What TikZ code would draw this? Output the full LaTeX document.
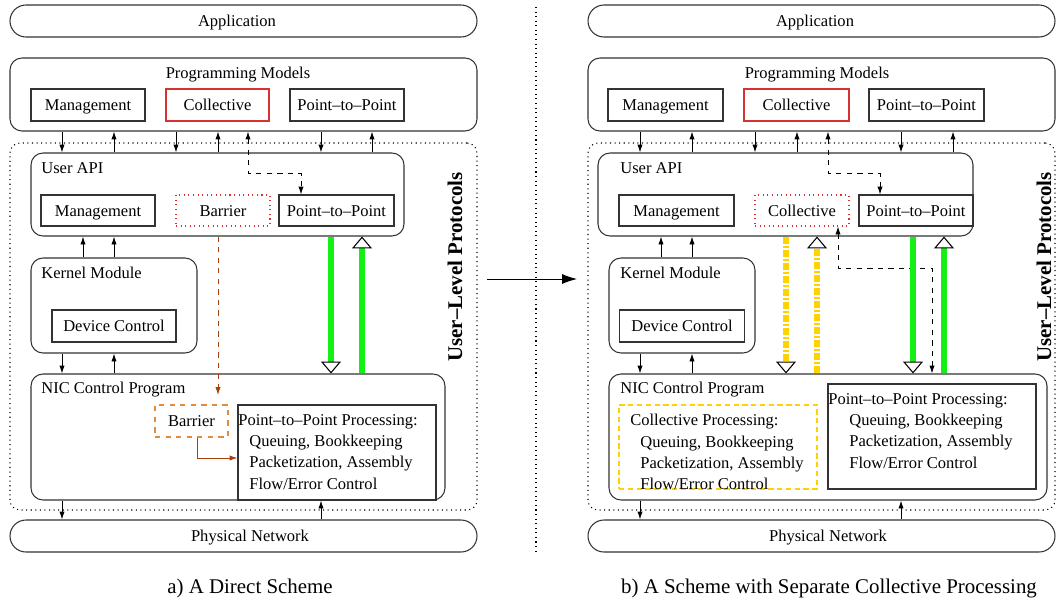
\documentclass[tikz,border=0pt]{standalone}
\usepackage{fontspec}
\setmainfont{Liberation Serif}
\usetikzlibrary{arrows.meta}
\usepackage{xcolor}
\definecolor{colred}{RGB}{215,50,50}
\definecolor{colorange}{RGB}{225,140,60}
\definecolor{colbrown}{RGB}{165,65,10}
\definecolor{colgold}{RGB}{255,210,0}
\definecolor{colgreen}{RGB}{20,240,20}
\newcommand{\nfont}{\fontsize{9.4}{12.1}\selectfont}
\newcommand{\bigfont}{\fontsize{11.9}{14}\selectfont}
\tikzset{
  blk/.style={draw=black!80, line width=0.6pt, inner sep=0pt, text height=6.8pt, text depth=0pt},
  wh/.style 2 args={minimum width=#1*0.02cm, minimum height=#2*0.02cm},
  layer/.style={blk, rounded corners=0.24cm},
  pill/.style={blk, rounded corners=0.32cm},
  ulp/.style={draw=black, line width=0.6pt, dotted, rounded corners=0.2cm, inner sep=0pt},
  lbl/.style={inner sep=0pt, text height=6.8pt, text depth=0pt},
  ttl/.style={anchor=west, inner sep=0pt},
  para/.style={anchor=north west, align=left, inner sep=0pt},
  captext/.style={font=\bigfont},
  side/.style={font=\bigfont\bfseries, rotate=90},
  link/.style={line width=0.5pt, -{Latex[length=4.5pt,width=3pt]}},
  dlink/.style={line width=0.5pt, dashed, {Latex[length=4.5pt,width=3pt]}-{Latex[length=4.5pt,width=3pt]}},
  fat/.style={line width=3.4pt, -{Triangle[length=6.8pt,width=11.4pt,line width=0.6pt,color=black,fill=white]}},
}
\begin{document}
\begin{tikzpicture}[x=0.02cm,y=-0.02cm,font=\nfont]
\useasboundingbox (0,0) rectangle (1057,602);

% a) direct scheme
\node[pill, wh={467}{32}] (appL) at (243.5,21) {};
\node[lbl] (appLt) at (237,21) {Application};
\node[layer, wh={467}{73}] (pmL) at (243.5,94.5) {};
\node (pmLt) at (238,75) {Programming Models};
\node[blk, wh={114}{32}] (pmLmg) at (88,105) {Management};
\node[blk, draw=colred, wh={103}{32}] (pmLco) at (217.5,105) {Collective};
\node[blk, wh={114}{32}] (pmLpp) at (347,105) {Point--to--Point};
\node[ulp, wh={467}{367}] (ulpL) at (243.5,326.5) {};
\node[side] (ulpLt) at (455,267) {User--Level Protocols};
\node[layer, wh={373}{83}] (apiL) at (217.5,194.5) {};
\node[ttl] (apiLt) at (41,168) {User API};
\node[blk, wh={114}{31}] (apiLmg) at (98,210.5) {Management};
\node[blk, draw=colred, dotted, wh={94}{31}] (apiLba) at (223,210.5) {Barrier};
\node[blk, wh={115}{31}] (apiLpp) at (336.5,210.5) {Point--to--Point};
\node[layer, wh={166}{95}] (kmL) at (114,305.5) {};
\node[ttl] (kmLt) at (41,273) {Kernel Module};
\node[blk, wh={124}{32}] (dcL) at (114,326) {Device Control};
\node[layer, wh={414}{126}] (nicL) at (238,437) {};
\node[ttl] (nicLt) at (41,390) {NIC Control Program};
\node[blk, draw=colorange, dashed, wh={73}{32}] (nicLba) at (191.5,421) {Barrier};
\node[blk, wh={198}{95}] (ppL) at (337,452.5) {};
\node[para] (ppLt) at (238,414) {Point--to--Point Processing:\\
  \hspace*{0.22cm}Queuing, Bookkeeping\\
  \hspace*{0.22cm}Packetization, Assembly\\
  \hspace*{0.22cm}Flow/Error Control};
\node[pill, wh={467}{32}] (pnL) at (243.5,536) {};
\node[lbl] (pnLt) at (250,536) {Physical Network};
\node[captext] (capL) at (250,588) {a) A Direct Scheme};

\path[link]
  (pmL.south -| 62,0) edge (apiL.north -| 62,0)
  (apiL.north -| 114,0) edge (pmL.south -| 114,0)
  (pmL.south -| 176,0) edge (apiL.north -| 176,0)
  (apiL.north -| 218,0) edge (pmL.south -| 218,0)
  (pmL.south -| 321,0) edge (apiL.north -| 321,0)
  (apiL.north -| 372,0) edge (pmL.south -| 372,0)
  (kmL.north -| 83,0) edge (apiL.south -| 83,0)
  (kmL.north -| 114,0) edge (apiL.south -| 114,0)
  (kmL.south -| 62,0) edge (nicL.north -| 62,0)
  (nicL.north -| 114,0) edge (kmL.south -| 114,0)
  (nicL.south -| 62,0) edge (pnL.north -| 62,0)
  (pnL.north -| 321,0) edge (nicL.south -| 321,0);
\draw[dlink] (pmL.south -| 248,0) -- (248,173) -- (301,173) -- (apiLpp.north -| 301,0);
\draw[link, colbrown, dashed] (apiL.south -| 218,0) -- (218,395);
\draw[link, colbrown] (nicLba.south -| 197,0) |- (ppL.west |- 0,458);
\draw[fat, colgreen] (apiL.south -| 331,0) -- (nicL.north -| 331,0);
\draw[fat, colgreen] (nicL.north -| 362,0) -- (apiL.south -| 362,0);

% separator
\coordinate (sepT) at (536,7);
\coordinate (sepB) at (536,555);
\draw[dotted, line width=0.6pt] (sepT) -- (sepB);
\coordinate (trA) at (487,279);
\coordinate (trB) at (577,279);
\draw[line width=0.5pt, -{Latex[length=8.5pt,width=5.7pt]}] (trA) -- (trB);

% b) separate collective processing
\node[pill, wh={467}{32}] (appR) at (821.5,21) {};
\node[lbl] (appRt) at (815,21) {Application};
\node[layer, wh={467}{73}] (pmR) at (821.5,94.5) {};
\node (pmRt) at (817,75) {Programming Models};
\node[blk, wh={115}{32}] (pmRmg) at (665.5,105) {Management};
\node[blk, draw=colred, wh={105}{32}] (pmRco) at (796.5,105) {Collective};
\node[blk, wh={115}{32}] (pmRpp) at (926.5,105) {Point--to--Point};
\node[ulp, wh={467}{367}] (ulpR) at (821.5,326.5) {};
\node[side] (ulpRt) at (1044,267) {User--Level Protocols};
\node[layer, wh={375}{83}] (apiR) at (785.5,194.5) {};
\node[ttl] (apiRt) at (620,168) {User API};
\node[blk, wh={115}{31}] (apiRmg) at (676.5,210.5) {Management};
\node[blk, draw=colred, dotted, wh={94}{31}] (apiRco) at (802,210.5) {Collective};
\node[blk, wh={114}{31}] (apiRpp) at (916,210.5) {Point--to--Point};
\node[layer, wh={146}{95}] (kmR) at (682,305.5) {};
\node[ttl] (kmRt) at (620,273) {Kernel Module};
\node[blk, wh={125}{32}] (dcR) at (682,326) {Device Control};
\node[layer, wh={438}{126}] (nicR) at (828,437) {};
\node[ttl] (nicRt) at (620,390) {NIC Control Program};
\node[blk, draw=colgold, densely dashed, wh={198}{84}] (cpR) at (718,447) {};
\node[para] (cpRt) at (630,414) {Collective Processing:\\
  \hspace*{0.2cm}Queuing, Bookkeeping\\
  \hspace*{0.2cm}Packetization, Assembly\\
  \hspace*{0.2cm}Flow/Error Control};
\node[blk, wh={208}{105}] (ppR) at (932,436.5) {};
\node[para] (ppRt) at (828,393) {Point--to--Point Processing:\\
  \hspace*{0.42cm}Queuing, Bookkeeping\\
  \hspace*{0.42cm}Packetization, Assembly\\
  \hspace*{0.42cm}Flow/Error Control};
\node[pill, wh={467}{32}] (pnR) at (821.5,536) {};
\node[lbl] (pnRt) at (828,536) {Physical Network};
\node[captext] (capR) at (829,588) {b) A Scheme with Separate Collective Processing};

\path[link]
  (pmR.south -| 640,0) edge (apiR.north -| 640,0)
  (apiR.north -| 692,0) edge (pmR.south -| 692,0)
  (pmR.south -| 755,0) edge (apiR.north -| 755,0)
  (apiR.north -| 797,0) edge (pmR.south -| 797,0)
  (pmR.south -| 901,0) edge (apiR.north -| 901,0)
  (apiR.north -| 953,0) edge (pmR.south -| 953,0)
  (kmR.north -| 661,0) edge (apiR.south -| 661,0)
  (kmR.north -| 692,0) edge (apiR.south -| 692,0)
  (kmR.south -| 640,0) edge (nicR.north -| 640,0)
  (nicR.north -| 692,0) edge (kmR.south -| 692,0)
  (nicR.south -| 640,0) edge (pnR.north -| 640,0)
  (pnR.north -| 901,0) edge (nicR.south -| 901,0);
\draw[dlink] (pmR.south -| 828,0) -- (828,173) -- (880,173) -- (apiRpp.north -| 880,0);
\draw[dlink] (apiRco.south -| 838,0) -- (838,268) -- (932,268) -- (nicR.north -| 932,0);
\draw[fat, colgold, dash pattern=on 4.2pt off 1.1pt on 1pt off 1.1pt] (apiR.south -| 786,0) -- (nicR.north -| 786,0);
\draw[fat, colgold, dash pattern=on 4.2pt off 1.1pt on 1pt off 1.1pt] (nicR.north -| 817,0) -- (apiR.south -| 817,0);
\draw[fat, colgreen] (apiR.south -| 913,0) -- (nicR.north -| 913,0);
\draw[fat, colgreen] (nicR.north -| 944,0) -- (apiR.south -| 944,0);
\end{tikzpicture}
\end{document}
